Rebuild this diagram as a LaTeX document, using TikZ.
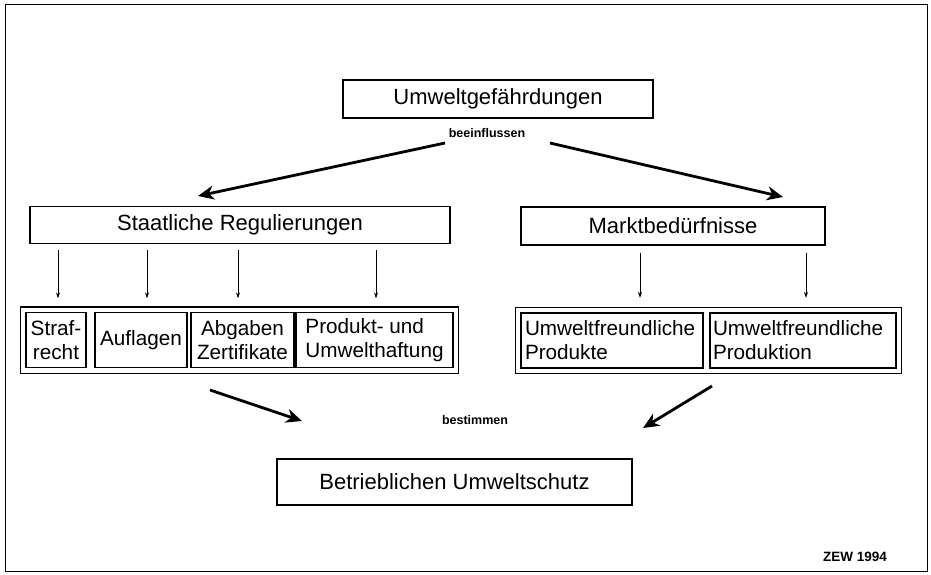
\documentclass[tikz,border=0pt]{standalone}
\usepackage{fontspec}
\setmainfont{Liberation Sans}
\usetikzlibrary{arrows.meta,fit,calc}

\begin{document}
\begin{tikzpicture} [x=1pt,y=-1pt,
		box/.style={draw,line width=1.2pt,inner sep=0pt,font=\fontsize{22}{25}\selectfont},
		smallbox/.style={box,minimum height=55pt,font=\fontsize{20.7}{24}\selectfont},
		group/.style={draw,line width=1.2pt,inner sep=5pt},
		smallarrow/.style={-{Stealth[length=6pt,width=4pt]},line width=0.8pt},
		bigarrow/.style={-{Stealth[length=16pt,width=14pt,inset=5pt]},line width=2.8pt},
		note/.style={font=\bfseries\fontsize{12.5}{14}\selectfont}]
			\useasboundingbox (0,0) rectangle (931,574);
			\draw[line width=0.8pt] (5,4) rectangle (927,571);
			% obere Ebene
			\node[box,minimum width=310pt,minimum height=38pt] (gefahr) at (498,99) {Umweltgefährdungen};
			\node[note] (beein) at (487,133) {beeinflussen};
			\node[box,minimum width=420pt,minimum height=37pt] (staat) at (240,225) {Staatliche Regulierungen};
			\node[box,minimum width=304pt,minimum height=38pt] (markt) at (673,226) {Marktbedürfnisse};
			% Instrumente
			\node[smallbox,minimum width=60pt,align=center] (straf) at (56,340) {Straf-\\recht};
			\node[smallbox,minimum width=92pt] (auflagen) at (141,340) {Auflagen};
			\node[smallbox,minimum width=103pt,align=center] (abgaben) at (242.5,340) {Abgaben\\Zertifikate};
			\node[smallbox,minimum width=157pt,align=left] (haftung) at (374.5,340) {Produkt- und\\Umwelthaftung};
			\node[group,fit=(straf)(haftung)] (links) {};
			\node[smallbox,minimum width=182pt,align=left,text width=174pt] (produkte) at (612,340.5) {Umweltfreundliche\\Produkte};
			\node[smallbox,minimum width=186pt,align=left,text width=180pt] (produktion) at (803,340.5) {Umweltfreundliche\\Produktion};
			\node[group,fit=(produkte)(produktion)] (rechts) {};
			% untere Ebene
			\node[note] (bestimmen) at (475,420) {bestimmen};
			\node[box,minimum width=355pt,minimum height=46pt] (betrieb) at (454.5,482) {Betrieblichen Umweltschutz};
			\node[note,font=\bfseries\fontsize{13.5}{15}\selectfont] (zew) at (855,557) {ZEW 1994};
			% Pfeile
			\coordinate (gl) at (445,143);
			\coordinate (gr) at (550,143);
			\coordinate (sl) at (198,196);
			\coordinate (mr) at (783,197);
			\draw[bigarrow] (gl) -- (sl);
			\draw[bigarrow] (gr) -- (mr);
			\foreach \n/\dx in {straf/2,auflagen/6,abgaben/-4.5,haftung/1.5}
				\draw[smallarrow,shorten <=6pt,shorten >=8pt] ([xshift=\dx pt]\n.north |- staat.south) -- ([xshift=\dx pt]\n.north |- links.north);
			\foreach \n/\dx in {produkte/28,produktion/3}
				\draw[smallarrow,shorten <=7pt,shorten >=9pt] ([xshift=\dx pt]\n.north |- markt.south) -- ([xshift=\dx pt]\n.north |- rechts.north);
			\coordinate (ll) at (210,390);
			\coordinate (lb) at (302,421);
			\coordinate (rl) at (712,386);
			\coordinate (rb) at (643,428);
			\draw[bigarrow] (ll) -- (lb);
			\draw[bigarrow] (rl) -- (rb);
		\end{tikzpicture}
\end{document}
